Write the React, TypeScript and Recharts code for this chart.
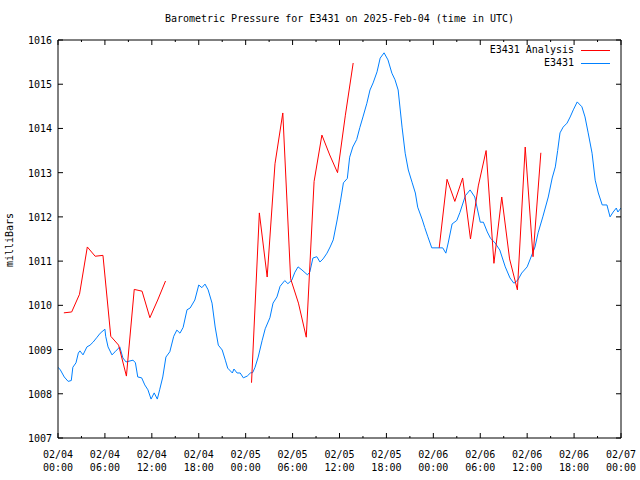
import React from 'react';
import { LineChart, Line, XAxis, YAxis } from 'recharts';

// station readings (hours since 02/04 00:00 UTC)
const stationHours = [
  0, 0.3, 0.8, 1.3, 1.7, 1.9, 2.3, 2.6, 2.8, 3.2, 3.7, 4.1, 4.5, 5.0, 5.4, 6.0, 6.1, 6.4, 6.9, 7.3,
  7.9, 8.3, 8.7, 9.6, 9.9, 10.2, 10.7, 11.1, 11.5, 11.9, 12.3, 12.7, 13.0, 13.4, 13.8, 14.3, 14.8, 15.2, 15.6, 16.0,
  16.5, 16.9, 17.5, 18.0, 18.4, 18.8, 19.2, 19.7, 20.1, 20.5, 21.0, 21.4, 21.7, 22.3, 22.5, 22.9, 23.3, 23.7, 24.2, 24.6,
  24.9, 25.2, 25.6, 26.1, 26.5, 27.1, 27.5, 28.0, 28.4, 29.0, 29.4, 29.9, 30.3, 30.7, 31.2, 31.9, 32.2, 32.6, 33.1, 33.5,
  33.9, 34.4, 34.8, 35.2, 35.7, 36.1, 36.5, 37.0, 37.3, 37.7, 38.2, 38.6, 39.0, 39.5, 39.9, 40.3, 40.8, 41.2, 41.7, 42.2,
  42.7, 43.1, 43.5, 44.0, 44.4, 44.8, 45.3, 45.7, 46.0, 46.6, 46.9, 47.3, 47.8, 49.2, 49.6, 49.9, 50.4, 51.0, 51.4, 52.1,
  52.7, 53.3, 54.0, 54.4, 54.9, 55.3, 55.9, 56.5, 57.2, 57.8, 58.3, 58.8, 59.3, 60.0, 60.6, 61.0, 61.4, 62.0, 62.7, 63.2,
  63.6, 63.9, 64.2, 64.6, 65.1, 65.5, 65.9, 66.4, 67.0, 67.4, 67.8, 68.3, 68.7, 69.1, 69.6, 70.2, 70.6, 71.0, 71.4, 71.6,
  72.0,
];
const stationPressure = [
  1008.60, 1008.54, 1008.38, 1008.28, 1008.30, 1008.60, 1008.70, 1008.92, 1008.97, 1008.88, 1009.06, 1009.10, 1009.17, 1009.28, 1009.37, 1009.46, 1009.30, 1009.06, 1008.88, 1008.95,
  1009.06, 1008.81, 1008.72, 1008.76, 1008.70, 1008.38, 1008.36, 1008.20, 1008.09, 1007.88, 1008.02, 1007.88, 1008.09, 1008.38, 1008.83, 1008.95, 1009.30, 1009.44, 1009.37, 1009.50,
  1009.90, 1009.94, 1010.12, 1010.46, 1010.40, 1010.48, 1010.35, 1010.05, 1009.51, 1009.10, 1008.99, 1008.76, 1008.58, 1008.47, 1008.56, 1008.47, 1008.47, 1008.36, 1008.40, 1008.47,
  1008.48, 1008.60, 1008.83, 1009.20, 1009.47, 1009.72, 1010.05, 1010.19, 1010.43, 1010.56, 1010.49, 1010.57, 1010.75, 1010.87, 1010.80, 1010.69, 1010.75, 1011.07, 1011.10, 1010.98,
  1011.05, 1011.18, 1011.32, 1011.48, 1011.93, 1012.33, 1012.77, 1012.87, 1013.35, 1013.58, 1013.75, 1014.02, 1014.26, 1014.57, 1014.87, 1015.03, 1015.28, 1015.59, 1015.71, 1015.55,
  1015.25, 1015.10, 1014.87, 1014.03, 1013.44, 1013.06, 1012.77, 1012.54, 1012.22, 1011.93, 1011.76, 1011.55, 1011.30, 1011.30, 1011.18, 1011.41, 1011.84, 1011.92, 1012.10, 1012.48,
  1012.61, 1012.45, 1011.88, 1011.88, 1011.66, 1011.52, 1011.41, 1011.25, 1010.87, 1010.62, 1010.50, 1010.57, 1010.73, 1010.87, 1011.14, 1011.32, 1011.64, 1012.00, 1012.45, 1012.88,
  1013.13, 1013.50, 1013.90, 1014.03, 1014.12, 1014.26, 1014.42, 1014.60, 1014.49, 1014.26, 1013.90, 1013.44, 1012.83, 1012.54, 1012.27, 1012.27, 1012.00, 1012.11, 1012.20, 1012.11,
  1012.20,
];

// analysis values, null = no analysis (gap in the line)
const analysisHours = [
  0.75, 1.75, 2.75, 3.75, 4.75, 5.75, 6.75, 7.75, 8.75, 9.75, 10.75, 11.75, 12.75, 13.75,
  20,
  24.75, 25.75, 26.75, 27.75, 28.75, 29.75, 30.75, 31.75, 32.75, 33.75, 34.75, 35.75, 36.75, 37.75,
  44,
  48.75, 49.75, 50.75, 51.75, 52.75, 53.75, 54.75, 55.75, 56.75, 57.75, 58.75, 59.75, 60.75, 61.75,
];
const analysisPressure = [
  1009.83, 1009.85, 1010.25, 1011.32, 1011.11, 1011.13, 1009.30, 1009.10, 1008.40, 1010.36, 1010.32, 1009.72, 1010.12, 1010.55,
  null,
  1008.25, 1012.09, 1010.64, 1013.20, 1014.35, 1010.60, 1010.05, 1009.28, 1012.80, 1013.85, 1013.40, 1013.00, 1014.30, 1015.48,
  null,
  1011.30, 1012.85, 1012.35, 1012.88, 1011.50, 1012.70, 1013.50, 1010.95, 1012.45, 1011.05, 1010.35, 1013.58, 1011.10, 1013.45,
];

const hourTicks = [0, 3, 6, 9, 12, 15, 18, 21, 24, 27, 30, 33, 36, 39, 42, 45, 48, 51, 54, 57, 60, 63, 66, 69, 72];
const labelHours = [0, 6, 12, 18, 24, 30, 36, 42, 48, 54, 60, 66, 72];
const dateLabels = ['02/04', '02/04', '02/04', '02/04', '02/05', '02/05', '02/05', '02/05', '02/06', '02/06', '02/06', '02/06', '02/07'];
const timeLabels = ['00:00', '06:00', '12:00', '18:00', '00:00', '06:00', '12:00', '18:00', '00:00', '06:00', '12:00', '18:00', '00:00'];
const pressureTicks = [1007, 1008, 1009, 1010, 1011, 1012, 1013, 1014, 1015, 1016];

const stationData = stationHours.map((h, i) => ({ h, p: stationPressure[i] }));
const analysisData = analysisHours.map((h, i) => ({ h, p: analysisPressure[i] }));

const FONT = '"DejaVu Sans Mono", monospace';

const BottomTick = ({ x, y, payload }: any) => {
  const i = labelHours.indexOf(payload.value);
  const major = i >= 0;
  return (
    <g>
      <line x1={x} x2={x} y1={y} y2={y - (major ? 5 : 2)} stroke="#000" />
      {major && (
        <text x={x} y={y + 20} textAnchor="middle" fontFamily={FONT} fontSize={10} fill="#000">
          {dateLabels[i]}
        </text>
      )}
      {major && (
        <text x={x} y={y + 33} textAnchor="middle" fontFamily={FONT} fontSize={10} fill="#000">
          {timeLabels[i]}
        </text>
      )}
    </g>
  );
};

const TopTick = ({ x, y, payload }: any) => {
  const major = labelHours.includes(payload.value);
  return <line x1={x} x2={x} y1={y} y2={y + (major ? 5 : 2)} stroke="#000" />;
};

const LeftTick = ({ x, y, payload }: any) => (
  <g>
    <line x1={x} x2={x + 5} y1={y} y2={y} stroke="#000" />
    <text x={x - 6} y={y + 4} textAnchor="end" fontFamily={FONT} fontSize={10} fill="#000">
      {payload.value}
    </text>
  </g>
);

const RightTick = ({ x, y }: any) => <line x1={x} x2={x - 5} y1={y} y2={y} stroke="#000" />;

const textStyle: React.CSSProperties = {
  position: 'absolute',
  fontFamily: FONT,
  fontSize: 10,
  lineHeight: '12px',
  color: '#000',
  whiteSpace: 'nowrap',
};

export default function App() {
  return (
    <div style={{ position: 'absolute', left: 0, top: 0, width: 640, height: 480, background: '#fff' }}>
      <div style={{ ...textStyle, left: 58, top: 13, width: 563, textAlign: 'center' }}>
        Barometric Pressure for E3431 on 2025-Feb-04 (time in UTC)
      </div>
      <div style={{ ...textStyle, left: -40, top: 234, width: 100, textAlign: 'center', transform: 'rotate(-90deg)' }}>
        milliBars
      </div>

      <LineChart width={640} height={480} margin={{ top: 39, right: 18, bottom: 41, left: 57 }}>
        <XAxis
          dataKey="h"
          type="number"
          domain={[0, 72]}
          ticks={hourTicks}
          interval={0}
          height={1}
          tickSize={0}
          tickMargin={0}
          tickLine={false}
          tick={BottomTick}
          stroke="#000"
          allowDataOverflow
        />
        <XAxis
          xAxisId="top"
          orientation="top"
          dataKey="h"
          type="number"
          domain={[0, 72]}
          ticks={hourTicks}
          interval={0}
          height={1}
          tickSize={0}
          tickMargin={0}
          tickLine={false}
          tick={TopTick}
          stroke="#000"
          allowDataOverflow
        />
        <YAxis
          type="number"
          domain={[1007, 1016]}
          ticks={pressureTicks}
          interval={0}
          width={1}
          tickSize={0}
          tickMargin={0}
          tickLine={false}
          tick={LeftTick}
          stroke="#000"
          allowDataOverflow
        />
        <YAxis
          yAxisId="right"
          orientation="right"
          type="number"
          domain={[1007, 1016]}
          ticks={pressureTicks}
          interval={0}
          width={1}
          tickSize={0}
          tickMargin={0}
          tickLine={false}
          tick={RightTick}
          stroke="#000"
          allowDataOverflow
        />
        <Line
          data={stationData}
          dataKey="p"
          type="linear"
          stroke="#0080ff"
          strokeWidth={1}
          dot={false}
          isAnimationActive={false}
        />
        <Line
          data={analysisData}
          dataKey="p"
          type="linear"
          stroke="#ff0000"
          strokeWidth={1}
          dot={false}
          connectNulls={false}
          isAnimationActive={false}
        />
      </LineChart>

      {/* legend, top right inside the plot */}
      <div style={{ ...textStyle, right: 66, top: 44, textAlign: 'right' }}>E3431 Analysis</div>
      <div style={{ position: 'absolute', left: 581, top: 50, width: 29, height: 1, background: '#ff0000' }} />
      <div style={{ ...textStyle, right: 66, top: 57, textAlign: 'right' }}>E3431</div>
      <div style={{ position: 'absolute', left: 581, top: 63, width: 29, height: 1, background: '#0080ff' }} />
    </div>
  );
}
